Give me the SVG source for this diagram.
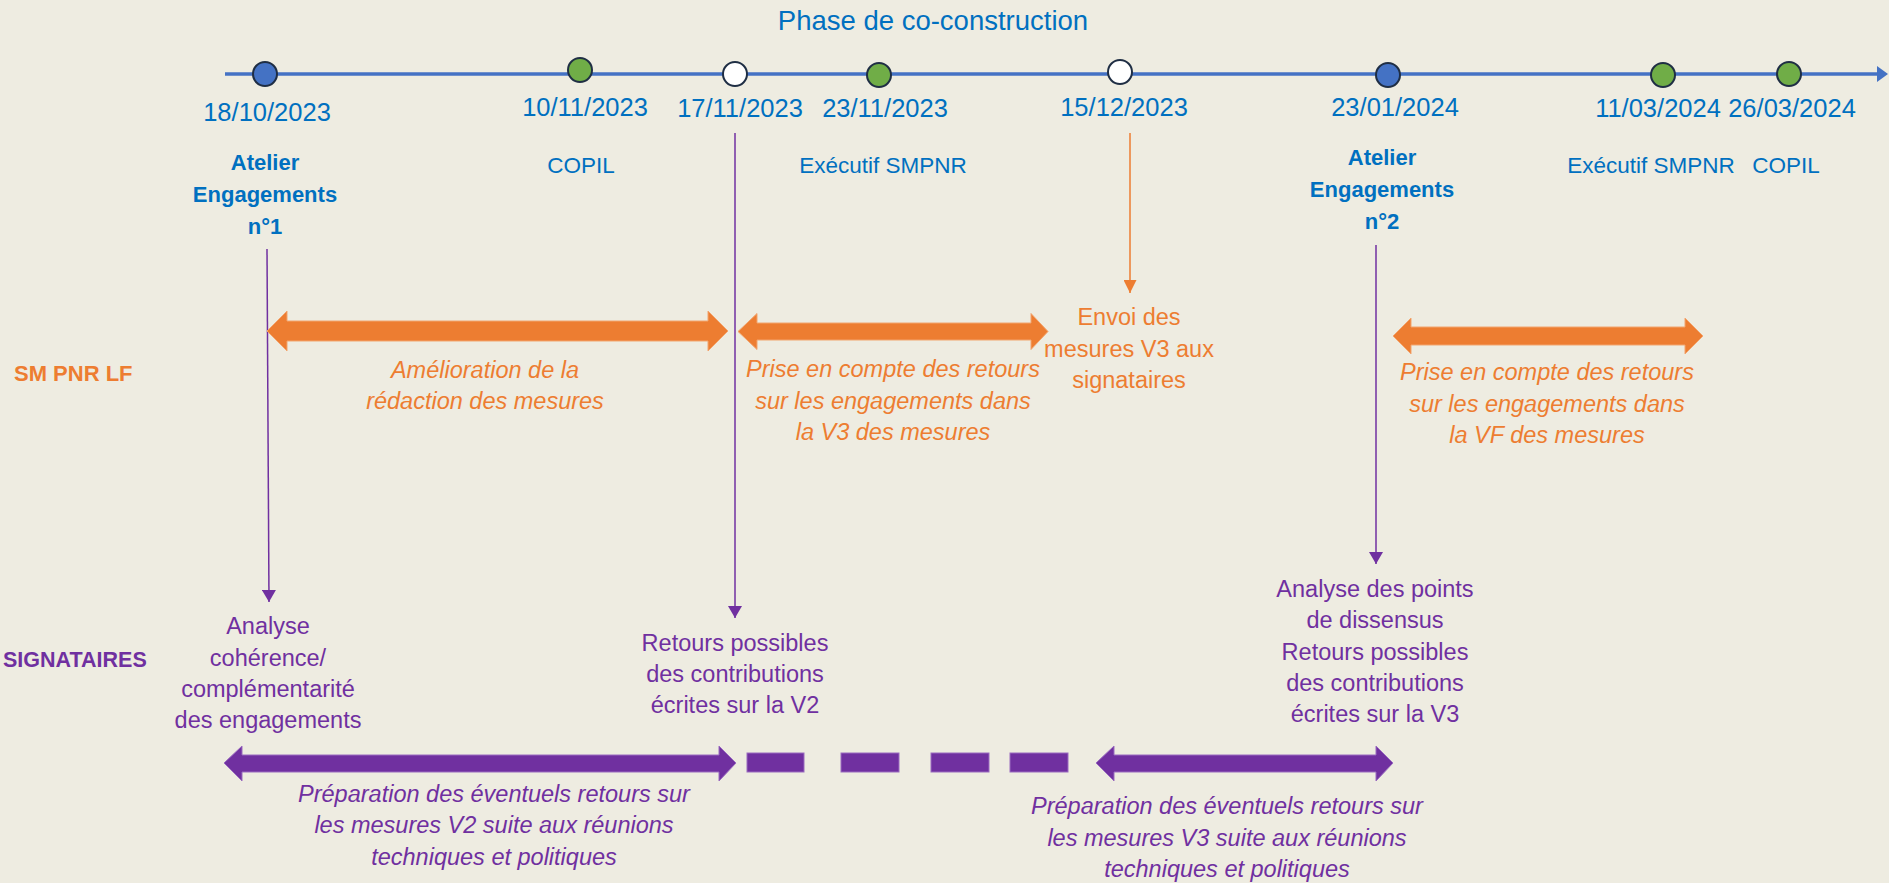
<svg xmlns="http://www.w3.org/2000/svg" width="1889" height="883" viewBox="0 0 1889 883">
<style>
text{font-family:"Liberation Sans",Arial,sans-serif;text-anchor:middle}
.blue{fill:#0070C0}
.or{fill:#ED7D31}
.pu{fill:#7030A0}
.date{font-size:25.5px}
.ms{font-size:22.5px}
.msb{font-size:22px;font-weight:bold}
.body{font-size:23.5px}
.it{font-style:italic}
.lane{font-weight:bold;text-anchor:start}
.dot{stroke:#1F2E44;stroke-width:2}
.conn-p{stroke:#7030A0;stroke-width:1.5;fill:none}
.conn-o{stroke:#ED7D31;stroke-width:1.5;fill:none}
.barO{fill:#ED7D31;stroke:#F2A56F;stroke-width:1}
.barP{fill:#7030A0;stroke:#9A6BC0;stroke-width:1}
</style>
<defs>
<marker id="ahP" markerUnits="userSpaceOnUse" markerWidth="12" markerHeight="14" viewBox="0 0 12 14" refX="12" refY="7" orient="auto"><path d="M0,0 L12,7 L0,14 Z" fill="#7030A0"/></marker>
<marker id="ahO" markerUnits="userSpaceOnUse" markerWidth="13" markerHeight="13" viewBox="0 0 13 13" refX="13" refY="6.5" orient="auto"><path d="M0,0 L13,6.5 L0,13 Z" fill="#ED7D31"/></marker>
</defs>
<rect width="1889" height="883" fill="#EEECE1"/>

<g id="title"><text class="blue" x="933" y="30" style="font-size:27.5px">Phase de co-construction</text></g>

<g id="timeline">
<line x1="225" y1="74" x2="1878" y2="74" stroke="#4472C4" stroke-width="3.5"/>
<polygon points="1877,66 1888,74 1877,82" fill="#4472C4"/>
</g>

<g id="connectors">
<line class="conn-p" x1="267" y1="249" x2="269" y2="602" marker-end="url(#ahP)"/>
<line class="conn-p" x1="735" y1="133" x2="735" y2="618" marker-end="url(#ahP)"/>
<line class="conn-p" x1="1376" y1="245" x2="1376" y2="564" marker-end="url(#ahP)"/>
<line class="conn-o" x1="1130" y1="133" x2="1130" y2="293" marker-end="url(#ahO)"/>
</g>

<g id="m1"><circle class="dot" cx="265" cy="74" r="12" fill="#4472C4"/>
<text class="blue date" x="267" y="121">18/10/2023</text>
<text class="blue msb" x="265" y="170">Atelier</text>
<text class="blue msb" x="265" y="202">Engagements</text>
<text class="blue msb" x="265" y="234">n°1</text></g>

<g id="m2"><circle class="dot" cx="580" cy="70" r="12" fill="#70AD47"/>
<text class="blue date" x="585" y="116">10/11/2023</text>
<text class="blue ms" x="581" y="173">COPIL</text></g>

<g id="m3"><circle class="dot" cx="735" cy="74" r="12" fill="#FFFFFF"/>
<text class="blue date" x="740" y="116.5">17/11/2023</text></g>

<g id="m4"><circle class="dot" cx="879" cy="75" r="12" fill="#70AD47"/>
<text class="blue date" x="885" y="116.5">23/11/2023</text>
<text class="blue ms" x="883" y="173">Exécutif SMPNR</text></g>

<g id="m5"><circle class="dot" cx="1120" cy="72" r="12" fill="#FFFFFF"/>
<text class="blue date" x="1124" y="116">15/12/2023</text></g>

<g id="m6"><circle class="dot" cx="1388" cy="75" r="12" fill="#4472C4"/>
<text class="blue date" x="1395" y="116">23/01/2024</text>
<text class="blue msb" x="1382" y="165">Atelier</text>
<text class="blue msb" x="1382" y="197">Engagements</text>
<text class="blue msb" x="1382" y="229">n°2</text></g>

<g id="m7"><circle class="dot" cx="1663" cy="75" r="12" fill="#70AD47"/>
<text class="blue date" x="1658" y="117">11/03/2024</text>
<text class="blue ms" x="1651" y="173">Exécutif SMPNR</text></g>

<g id="m8"><circle class="dot" cx="1789" cy="74" r="12" fill="#70AD47"/>
<text class="blue date" x="1792" y="117">26/03/2024</text>
<text class="blue ms" x="1786" y="173">COPIL</text></g>

<g id="lane-sm"><text class="or lane" x="14" y="381" style="font-size:22px">SM PNR LF</text></g>
<g id="lane-sig"><text class="pu lane" x="3" y="667" style="font-size:21.5px">SIGNATAIRES</text></g>

<g id="sm1">
<polygon class="barO" points="267,331 287,311 287,321 708,321 708,311 728,331 708,351 708,341 287,341 287,351"/>
<text class="or body it" x="485" y="378">Amélioration de la</text>
<text class="or body it" x="485" y="409">rédaction des mesures</text>
</g>

<g id="sm2">
<polygon class="barO" points="738,331.5 757,313.5 757,323 1031,323 1031,313.5 1048,331.5 1031,349.5 1031,340 757,340 757,349.5"/>
<text class="or body it" x="893" y="377">Prise en compte des retours</text>
<text class="or body it" x="893" y="409">sur les engagements dans</text>
<text class="or body it" x="893" y="440">la V3 des mesures</text>
</g>

<g id="sm3">
<text class="or body" x="1129" y="325">Envoi des</text>
<text class="or body" x="1129" y="357">mesures V3 aux</text>
<text class="or body" x="1129" y="388">signataires</text>
</g>

<g id="sm4">
<polygon class="barO" points="1393,336 1411,318 1411,327 1685,327 1685,318 1703,336 1685,354 1685,345 1411,345 1411,354"/>
<text class="or body it" x="1547" y="380">Prise en compte des retours</text>
<text class="or body it" x="1547" y="412">sur les engagements dans</text>
<text class="or body it" x="1547" y="443">la VF des mesures</text>
</g>

<g id="sig1">
<text class="pu body" x="268" y="634">Analyse</text>
<text class="pu body" x="268" y="666">cohérence/</text>
<text class="pu body" x="268" y="697">complémentarité</text>
<text class="pu body" x="268" y="728">des engagements</text>
</g>

<g id="sig2">
<text class="pu body" x="735" y="651">Retours possibles</text>
<text class="pu body" x="735" y="682">des contributions</text>
<text class="pu body" x="735" y="713">écrites sur la V2</text>
</g>

<g id="sig3">
<text class="pu body" x="1375" y="597">Analyse des points</text>
<text class="pu body" x="1375" y="628">de dissensus</text>
<text class="pu body" x="1375" y="660">Retours possibles</text>
<text class="pu body" x="1375" y="691">des contributions</text>
<text class="pu body" x="1375" y="722">écrites sur la V3</text>
</g>

<g id="sig4">
<polygon class="barP" points="224,763 242,746 242,755 719,755 719,746 736,763 719,781 719,772 242,772 242,781"/>
<text class="pu body it" x="494" y="802">Préparation des éventuels retours sur</text>
<text class="pu body it" x="494" y="833">les mesures V2 suite aux réunions</text>
<text class="pu body it" x="494" y="865">techniques et politiques</text>
</g>

<g id="sig-dash">
<rect class="barP" x="747" y="753" width="57" height="19"/>
<rect class="barP" x="841" y="753" width="58" height="19"/>
<rect class="barP" x="931" y="753" width="58" height="19"/>
<rect class="barP" x="1010" y="753" width="58" height="19"/>
</g>

<g id="sig5">
<polygon class="barP" points="1096,763 1114,746 1114,755 1376,755 1376,746 1393,763 1376,781 1376,772 1114,772 1114,781"/>
<text class="pu body it" x="1227" y="814">Préparation des éventuels retours sur</text>
<text class="pu body it" x="1227" y="846">les mesures V3 suite aux réunions</text>
<text class="pu body it" x="1227" y="877">techniques et politiques</text>
</g>
</svg>
